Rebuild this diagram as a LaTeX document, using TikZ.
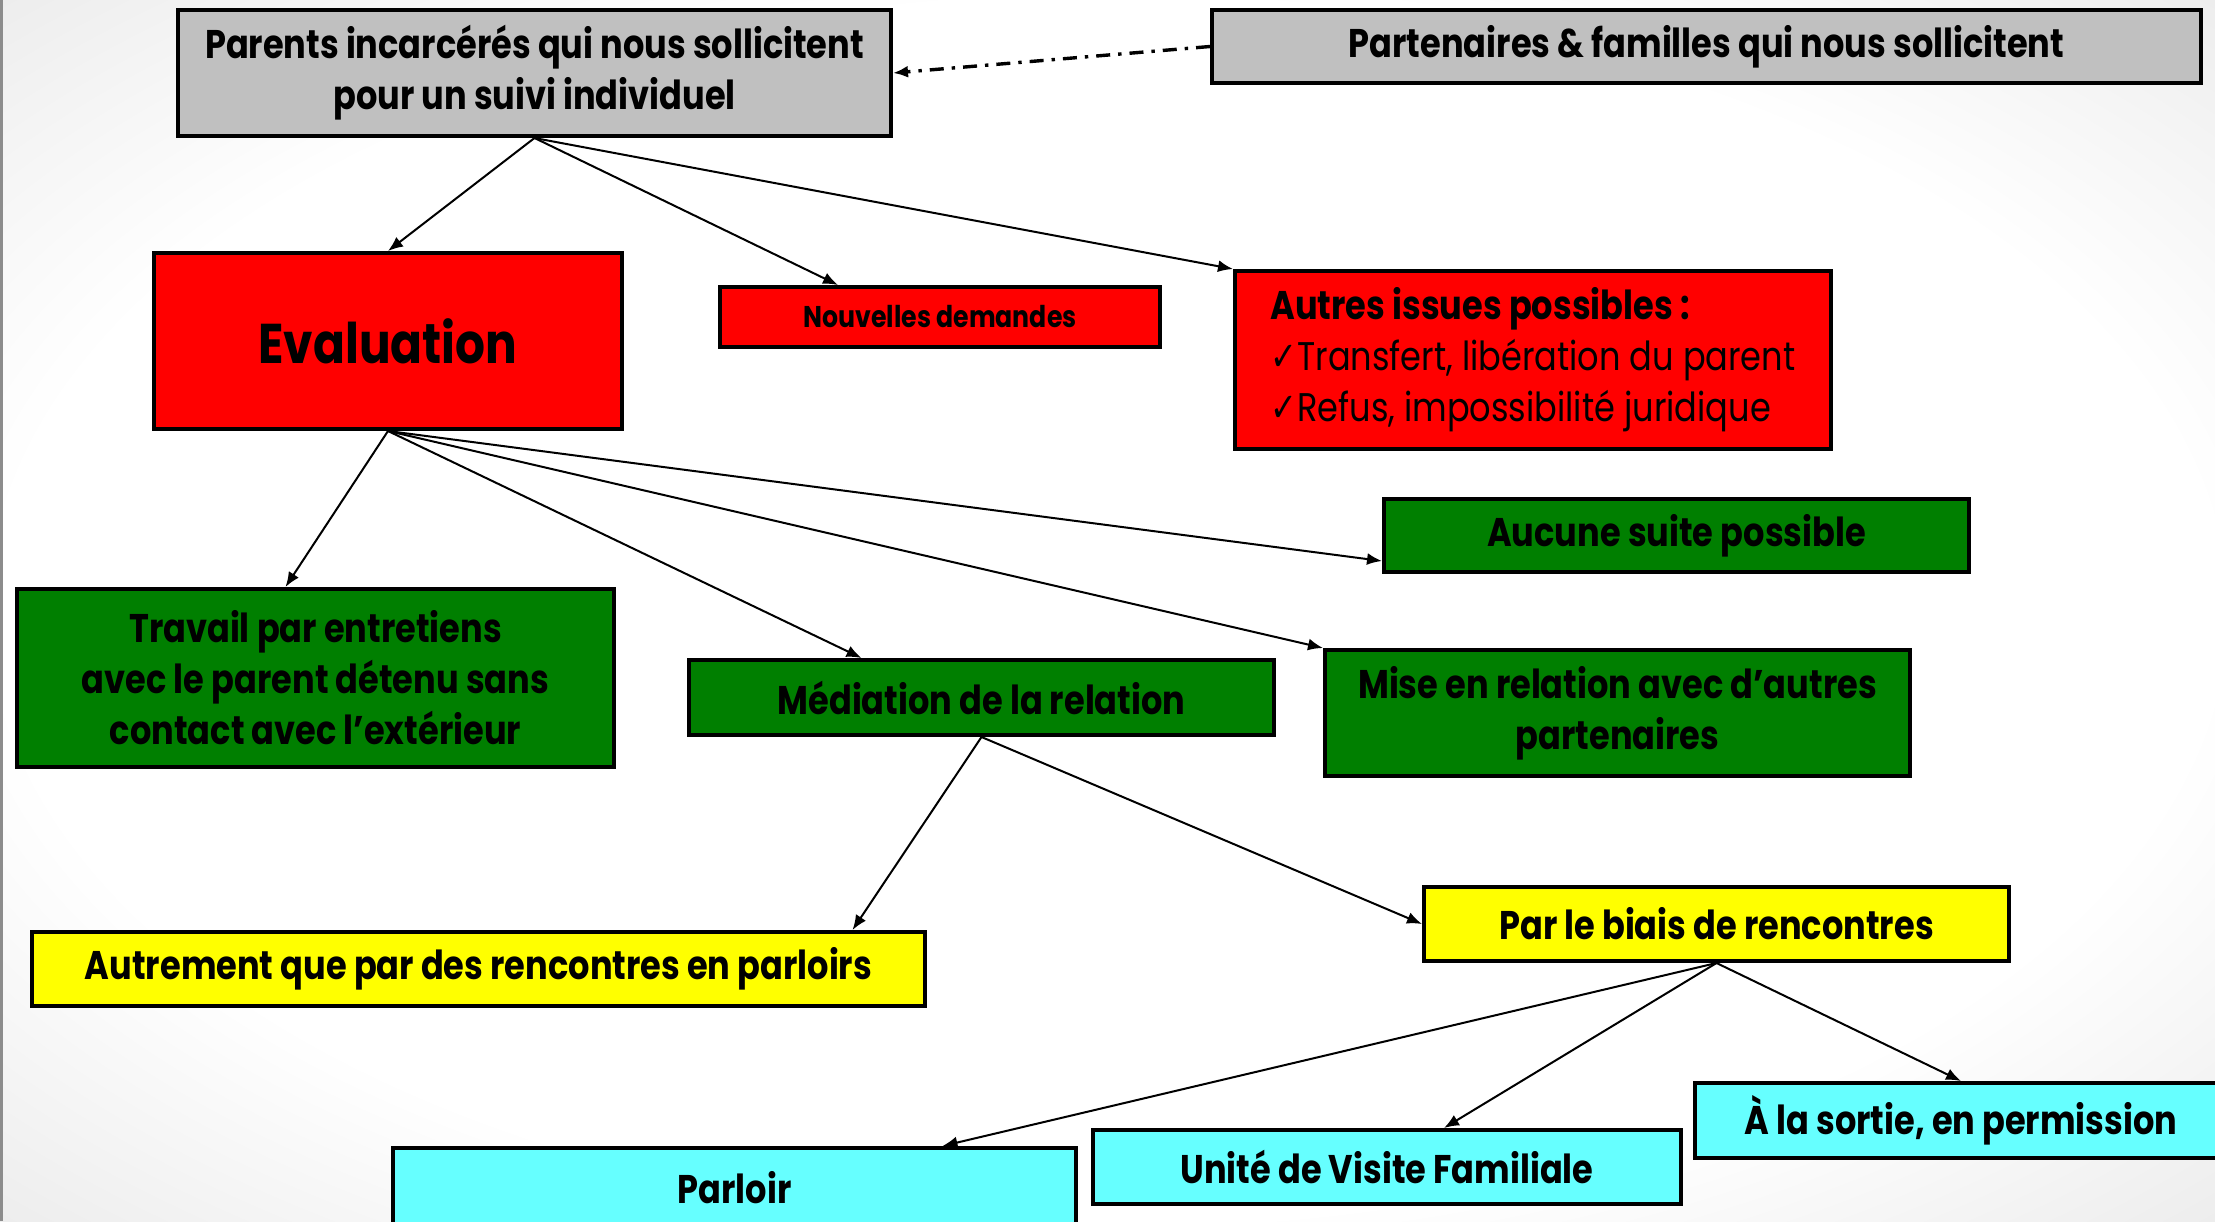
\documentclass[tikz,border=0pt]{standalone}
\usepackage{fontspec}
\setmainfont{Poppins}[FakeStretch=0.84]
\newfontfamily\symf{DejaVu Sans}[FakeStretch=0.8]
\usetikzlibrary{arrows.meta,calc}
\definecolor{boxgray}{HTML}{C0C0C0}
\definecolor{boxred}{HTML}{FF0000}
\definecolor{boxgreen}{HTML}{007F00}
\definecolor{boxyellow}{HTML}{FFFF00}
\definecolor{boxcyan}{HTML}{66FFFF}
\pgfdeclareradialshading{vign}{\pgfpoint{0bp}{0bp}}{color(0bp)=(white); color(25bp)=(white); color(50bp)=(black!17); color(71bp)=(black!30)}
\tikzset{
  box/.style={draw=black, line width=2pt, inner sep=0pt, align=center,
    font=\fontsize{20}{25.5}\selectfont\bfseries},
  arr/.style={-{Latex[length=7.5pt,width=6pt]}, line width=1pt},
  dd/.style={-{Latex[length=7.5pt,width=6pt]}, line width=1.7pt,
    dash pattern=on 7pt off 4pt on 1.7pt off 4pt}
}
\begin{document}
\begin{tikzpicture}[x=0.5pt,y=-0.5pt]
\useasboundingbox (0,0) rectangle (2215,1221);
\begin{scope}
\clip (0,0) rectangle (2215,1221);
\shade[shading=vign] (0,0) rectangle (2215,1221);
\fill[black!45] (0,0) rectangle (3,1221);

\node[box, fill=boxgray, minimum width=356.5pt, minimum height=63pt] (par) at (534.5,73)
  {Parents incarcérés qui nous sollicitent\\pour un suivi individuel};
\node[box, fill=boxgray, minimum width=494.5pt, minimum height=36.5pt] (part) at (1706.5,46.5)
  {Partenaires \& familles qui nous sollicitent};
\node[box, fill=boxred, minimum width=234pt, minimum height=88pt,
  font=\fontsize{28}{32}\selectfont\bfseries] (eval) at (388,341) {Evaluation};
\node[box, fill=boxred, minimum width=220pt, minimum height=30pt,
  font=\fontsize{15}{18}\selectfont\bfseries] (nouv) at (940,317) {Nouvelles demandes};
\node[box, fill=boxred, minimum width=298pt, minimum height=89pt, align=left,
  font=\fontsize{20}{25.5}\selectfont] (autres) at (1533,360)
  {\textbf{Autres issues possibles :}\\{\symf ✓}Transfert, libération du parent\\{\symf ✓}Refus, impossibilité juridique};
\node[box, fill=boxgreen, minimum width=292.5pt, minimum height=36.5pt] (auc) at (1676.5,535.5)
  {Aucune suite possible};
\node[box, fill=boxgreen, minimum width=298.5pt, minimum height=89pt] (trav) at (315.5,678)
  {Travail par entretiens\\avec le parent détenu sans\\contact avec l’extérieur};
\node[box, fill=boxgreen, minimum width=292.5pt, minimum height=37.5pt] (med) at (981.5,697.5)
  {Médiation de la relation};
\node[box, fill=boxgreen, minimum width=292.5pt, minimum height=63pt] (mise) at (1617.5,713)
  {Mise en relation avec d’autres\\partenaires};
\node[box, fill=boxyellow, minimum width=446.5pt, minimum height=37pt] (autr) at (478.5,969)
  {Autrement que par des rencontres en parloirs};
\node[box, fill=boxyellow, minimum width=292.5pt, minimum height=37pt] (biais) at (1716.5,924)
  {Par le biais de rencontres};
\node[box, fill=boxcyan, minimum width=341.5pt, minimum height=40pt] (parl) at (734.5,1188)
  {Parloir};
\node[box, fill=boxcyan, minimum width=294pt, minimum height=37pt] (uvf) at (1387,1167)
  {Unité de Visite Familiale};
\node[box, fill=boxcyan, minimum width=266pt, minimum height=37.5pt] (sort) at (1961,1120.5)
  {À la sortie, en permission};

\draw[dd] (part.west) -- (par.east);
\draw[arr] (par.south) -- (eval.north);
\draw[arr] (par.south) -- ([xshift=-51pt]nouv.north);
\draw[arr] (par.south) -- (autres.north west);
\draw[arr] (eval.south) -- ([xshift=-15pt]trav.north);
\draw[arr] (eval.south) -- ([xshift=-60pt]med.north);
\draw[arr] (eval.south) -- (mise.north west);
\draw[arr] (eval.south) -- ([yshift=-12.75pt]auc.west);
\draw[arr] (med.south) -- ([xshift=187pt]autr.north);
\draw[arr] (med.south) -- (biais.west);
\draw[arr] (biais.south) -- ([xshift=104pt]parl.north);
\draw[arr] (biais.south) -- ([xshift=28.5pt]uvf.north);
\draw[arr] (biais.south) -- (sort.north);
\end{scope}
\end{tikzpicture}
\end{document}
